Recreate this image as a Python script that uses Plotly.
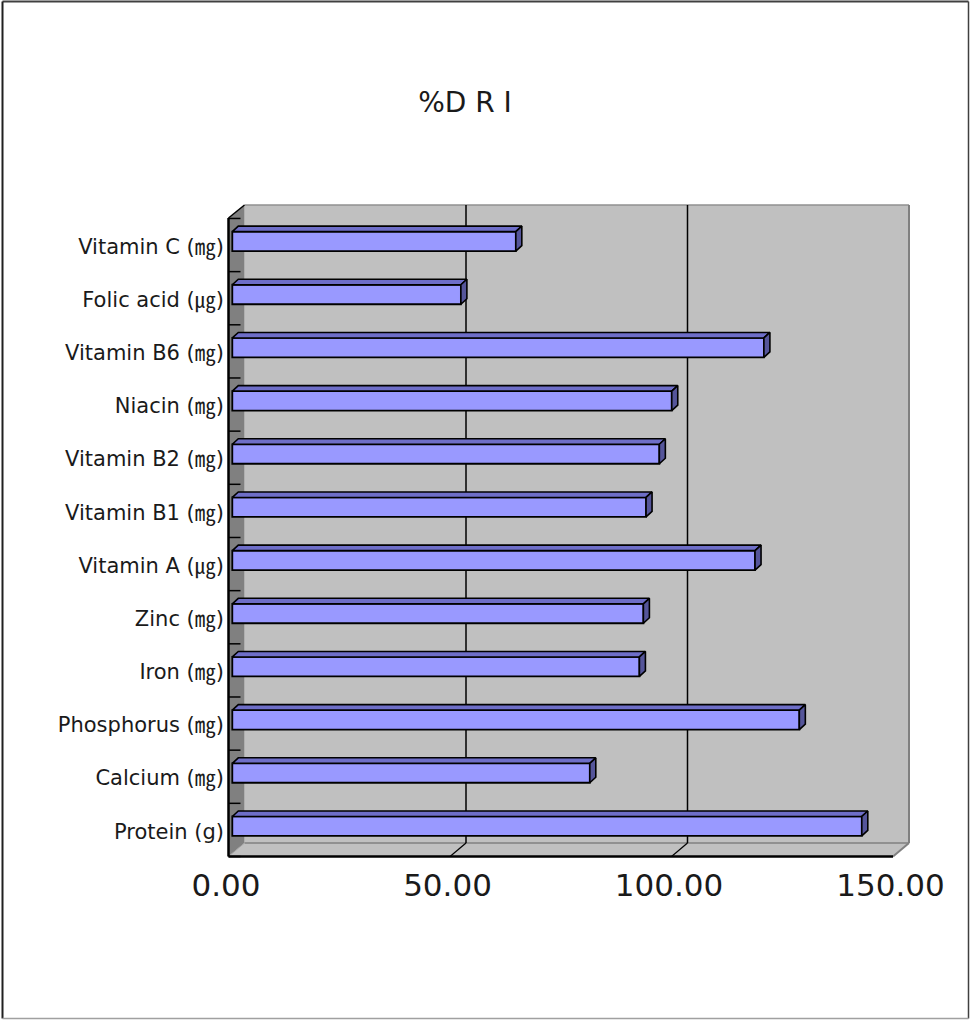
import plotly.graph_objects as go

# Nutrients listed bottom to top, with the share of the DRI met (%)
NUTRIENTS = ["Protein (g)", "Calcium (㎎)", "Phosphorus (㎎)", "Iron (㎎)", "Zinc (㎎)",
             "Vitamin A (㎍)", "Vitamin B1 (㎎)", "Vitamin B2 (㎎)", "Niacin (㎎)",
             "Vitamin B6 (㎎)", "Folic acid (㎍)", "Vitamin C (㎎)"]
DRI_PCT = [142.1, 80.7, 128.0, 91.9, 92.8, 118.0, 93.4, 96.4, 99.2, 120.0, 51.6, 64.0]
X_TICKS = [0, 50, 100, 150]
X_TICK_TEXT = ["0.00", "50.00", "100.00", "150.00"]
GRID_VALUES = [50, 100]
TITLE = "%D R I"

# ---- layout geometry (pixels) for the pseudo-3D box ----
W, H = 970, 1020
PLOT_L, PLOT_R, PLOT_T, PLOT_B = 225, 914, 200, 862
PX_PER_UNIT = 4.43          # value scale along the x direction
BAR_ZERO_PX = 232.3         # x of value 0 on the bars' front faces
FRONT_ZERO_PX = 228.5       # x of value 0 on the front edge of the floor
BACK_ZERO_PX = 244.5        # x of value 0 on the back wall
LABEL_ZERO_PX = 226.0       # x where the "0.00" label is centred
PX_PER_CAT = 53.17          # height of one category band
BAR_BASE_PY = 826.2         # y centre of the lowest bar's front face
FRONT_TOP_PY, FRONT_BOT_PY = 218.0, 856.5
BACK_TOP_PY, BACK_BOT_PY = 205.0, 843.0
BAR_DX_PX, BAR_DY_PX = 6.0, 5.5   # depth of each bar
BAR_WIDTH = 0.366
LABEL_DROP_PX = 5.0

FONT = "DejaVu Sans, Noto Sans CJK KR, sans-serif"
TEXT_COLOR = "#1a1a1a"
FRONT_COLOR = "#9999FF"
TOP_COLOR = "#6E6EC8"
SIDE_COLOR = "#55559A"
WALL_COLOR = "#C0C0C0"
SIDE_WALL_COLOR = "#808080"


def ax_x(px):
    return (px - BAR_ZERO_PX) / PX_PER_UNIT


def ax_y(py):
    return (BAR_BASE_PY - py) / PX_PER_CAT


def paper_x(px):
    return (px - PLOT_L) / (PLOT_R - PLOT_L)


def paper_y(py):
    return (PLOT_B - py) / (PLOT_B - PLOT_T)


positions = list(range(len(NUTRIENTS)))
front_shift = (FRONT_ZERO_PX - BAR_ZERO_PX) / PX_PER_UNIT
back_shift = (BACK_ZERO_PX - BAR_ZERO_PX) / PX_PER_UNIT
ddx = BAR_DX_PX / PX_PER_UNIT
ddy = BAR_DY_PX / PX_PER_CAT
half = BAR_WIDTH / 2

fig = go.Figure()

# front faces of the bars
fig.add_trace(go.Bar(
    x=DRI_PCT, y=positions, orientation="h", width=BAR_WIDTH,
    marker=dict(color=FRONT_COLOR, line=dict(color="black", width=1.8)),
    hoverinfo="skip", showlegend=False,
))

# top and end faces of the bars, built from the same values
top_x, top_y, side_x, side_y = [], [], [], []
for v, c in zip(DRI_PCT, positions):
    top_x += [0, v, v + ddx, ddx, 0, None]
    top_y += [c + half, c + half, c + half + ddy, c + half + ddy, c + half, None]
    side_x += [v, v + ddx, v + ddx, v, v, None]
    side_y += [c - half, c - half + ddy, c + half + ddy, c + half, c - half, None]

for xs, ys, col in [(top_x, top_y, TOP_COLOR), (side_x, side_y, SIDE_COLOR)]:
    fig.add_trace(go.Scatter(
        x=xs, y=ys, mode="lines", fill="toself", fillcolor=col,
        line=dict(color="black", width=1.6), hoverinfo="skip", showlegend=False,
    ))

# carrier for the front value axis
fig.add_trace(go.Scatter(x=[], y=[], xaxis="x2", showlegend=False, hoverinfo="skip"))

shapes = []


def poly(points, fill, line_color=None, width=0):
    path = "M " + " L ".join(f"{ax_x(px)},{ax_y(py)}" for px, py in points) + " Z"
    shapes.append(dict(type="path", path=path, xref="x", yref="y", layer="below",
                       fillcolor=fill, line=dict(color=line_color or fill, width=width)))


def seg(p0, p1, color, width):
    shapes.append(dict(type="line", xref="x", yref="y", layer="below",
                       x0=ax_x(p0[0]), y0=ax_y(p0[1]), x1=ax_x(p1[0]), y1=ax_y(p1[1]),
                       line=dict(color=color, width=width)))


front_end_px = FRONT_ZERO_PX + PX_PER_UNIT * X_TICKS[-1]
back_end_px = BACK_ZERO_PX + PX_PER_UNIT * X_TICKS[-1]

# back wall
poly([(BACK_ZERO_PX, BACK_TOP_PY), (back_end_px, BACK_TOP_PY),
      (back_end_px, BACK_BOT_PY), (BACK_ZERO_PX, BACK_BOT_PY)], WALL_COLOR)
# left side wall
poly([(FRONT_ZERO_PX, FRONT_TOP_PY), (BACK_ZERO_PX, BACK_TOP_PY),
      (BACK_ZERO_PX, BACK_BOT_PY), (FRONT_ZERO_PX, FRONT_BOT_PY)], SIDE_WALL_COLOR)
# floor
poly([(FRONT_ZERO_PX, FRONT_BOT_PY), (BACK_ZERO_PX, BACK_BOT_PY),
      (back_end_px, BACK_BOT_PY), (front_end_px, FRONT_BOT_PY)], WALL_COLOR)

# wall borders
seg((BACK_ZERO_PX, BACK_TOP_PY), (back_end_px, BACK_TOP_PY), "#909090", 1.5)
seg((back_end_px, BACK_TOP_PY), (back_end_px, BACK_BOT_PY), "#808080", 2)
seg((BACK_ZERO_PX, BACK_BOT_PY), (back_end_px, BACK_BOT_PY), "#808080", 1.5)
seg((back_end_px, BACK_BOT_PY), (front_end_px, FRONT_BOT_PY), "#808080", 2)
seg((BACK_ZERO_PX, BACK_BOT_PY), (FRONT_ZERO_PX, FRONT_BOT_PY), "#A0A0A0", 1)
seg((FRONT_ZERO_PX, FRONT_TOP_PY), (BACK_ZERO_PX, BACK_TOP_PY), "black", 1.5)

# value gridlines on the back wall and across the floor
for v in GRID_VALUES:
    shapes.append(dict(type="line", xref="x", yref="y", layer="below",
                       x0=v + back_shift, x1=v + back_shift,
                       y0=ax_y(BACK_BOT_PY), y1=ax_y(BACK_TOP_PY),
                       line=dict(color="black", width=1.5)))
    shapes.append(dict(type="line", xref="x", yref="y", layer="below",
                       x0=v + front_shift, x1=v + back_shift,
                       y0=ax_y(FRONT_BOT_PY), y1=ax_y(BACK_BOT_PY),
                       line=dict(color="black", width=1.2)))

# category tick marks on the side wall
for k in range(len(NUTRIENTS) + 1):
    py = FRONT_BOT_PY - k * PX_PER_CAT
    seg((FRONT_ZERO_PX, py), (FRONT_ZERO_PX + 12, py), "black", 1.5)

# front edges of the box
seg((FRONT_ZERO_PX, FRONT_TOP_PY), (FRONT_ZERO_PX, FRONT_BOT_PY), "black", 2.5)
seg((FRONT_ZERO_PX, FRONT_BOT_PY), (front_end_px, FRONT_BOT_PY), "black", 2.5)

# outer frame of the chart area
for (x0, y0, x1, y1, col, wd) in [
    (2.5, 1.5, 968.5, 1.5, "#404040", 2),
    (2.5, 1.5, 2.5, 1018.5, "#202020", 2),
    (968.5, 1.5, 968.5, 1018.5, "#404040", 1.5),
    (2.5, 1018.5, 968.5, 1018.5, "#A0A0A0", 1.5),
]:
    shapes.append(dict(type="line", xref="paper", yref="paper", layer="above",
                       x0=paper_x(x0), y0=paper_y(y0), x1=paper_x(x1), y1=paper_y(y1),
                       line=dict(color=col, width=wd)))

fig.update_layout(
    width=W, height=H,
    margin=dict(l=PLOT_L, r=W - PLOT_R, t=PLOT_T, b=H - PLOT_B, autoexpand=False),
    paper_bgcolor="white", plot_bgcolor="white",
    font=dict(family=FONT, color=TEXT_COLOR),
    title=dict(text=TITLE, x=465 / W, y=1 - 102 / H, xref="container", yref="container",
               xanchor="center", yanchor="middle", font=dict(family=FONT, size=28, color=TEXT_COLOR)),
    shapes=shapes,
    xaxis=dict(range=[ax_x(PLOT_L), ax_x(PLOT_R)], showticklabels=False, showgrid=False,
               zeroline=False, showline=False, ticks="", fixedrange=True),
    xaxis2=dict(overlaying="x", anchor="y", side="bottom",
                range=[(PLOT_L - LABEL_ZERO_PX) / PX_PER_UNIT, (PLOT_R - LABEL_ZERO_PX) / PX_PER_UNIT],
                tickmode="array", tickvals=X_TICKS, ticktext=X_TICK_TEXT,
                tickfont=dict(family=FONT, size=31, color=TEXT_COLOR),
                showgrid=False, zeroline=False, showline=False, ticks="", ticklabelstandoff=2),
    yaxis=dict(range=[ax_y(PLOT_B), ax_y(PLOT_T)], tickmode="array",
               tickvals=[p - LABEL_DROP_PX / PX_PER_CAT for p in positions], ticktext=NUTRIENTS,
               tickfont=dict(family=FONT, size=21, color=TEXT_COLOR),
               showgrid=False, zeroline=False, showline=False, ticks="", ticklabelstandoff=0),
)

fig.write_html("out.html")
